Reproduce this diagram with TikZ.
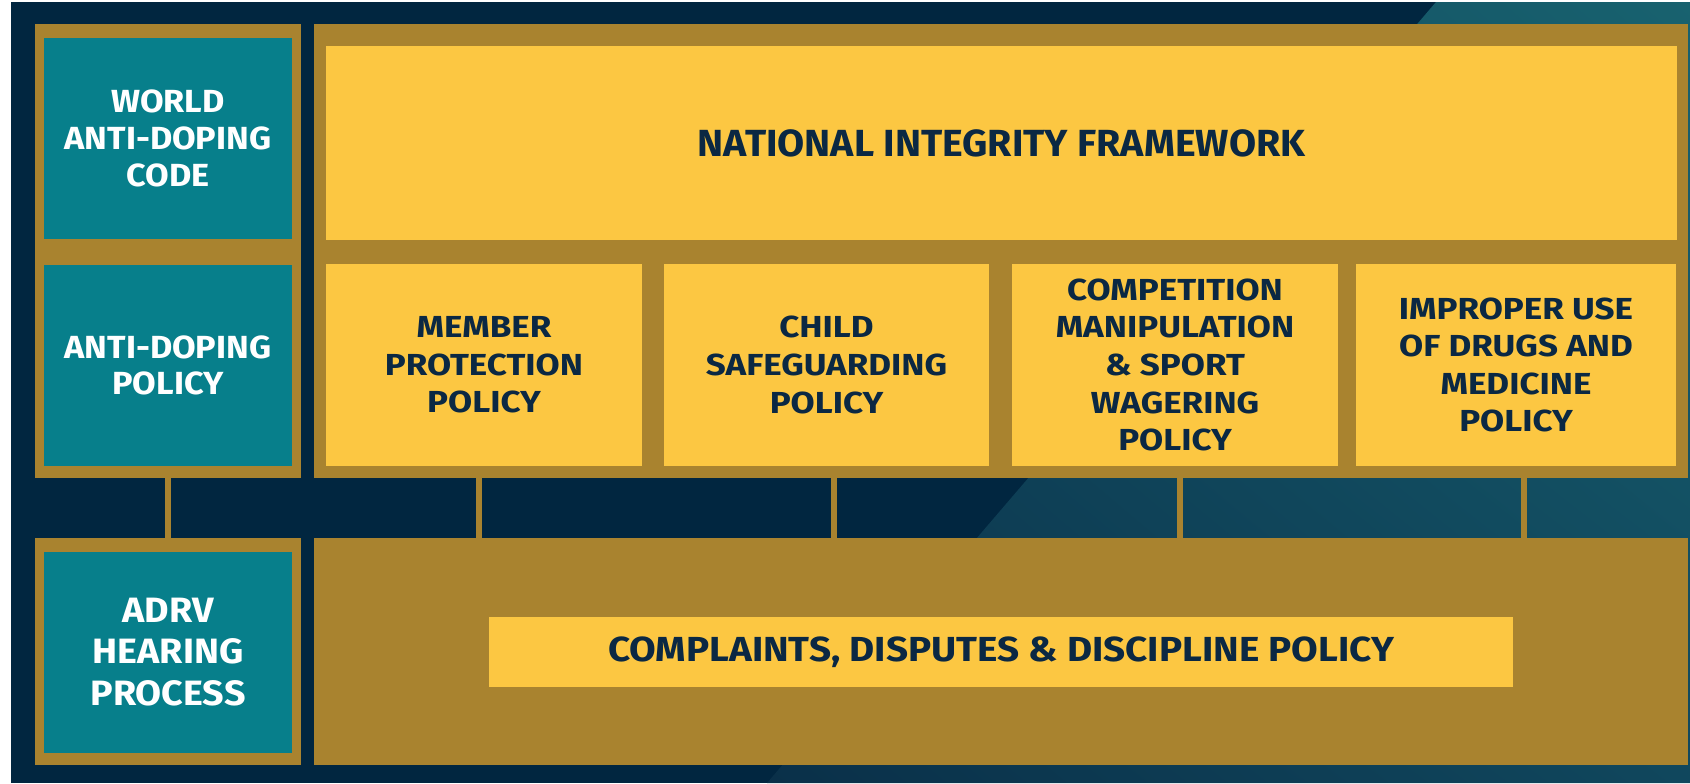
\documentclass[tikz,border=0pt]{standalone}
\usepackage{fontspec}
\setmainfont{Fira Sans}
\newfontfamily\colfont{Fira Sans}[FakeStretch=1.07]
\newfontfamily\nifont{Fira Sans}[FakeStretch=1.04]
\newfontfamily\polfont{Fira Sans}[FakeStretch=1.15]
\newfontfamily\cddfont{Fira Sans}[FakeStretch=1.11]
\usepackage{tikz}
\usetikzlibrary{shadings}
\definecolor{navy}{HTML}{012640}
\definecolor{seadark}{HTML}{0A3049}
\definecolor{sealight}{HTML}{18626F}
\definecolor{seamid}{HTML}{10475D}
\definecolor{gold}{HTML}{A9832F}
\definecolor{tealbox}{HTML}{077F8B}
\definecolor{sunny}{HTML}{FCC742}
\definecolor{ink}{HTML}{0B2843}

\begin{document}
\begin{tikzpicture}[x=0.5pt,y=-0.5pt]
	\useasboundingbox (0,0) rectangle (1690,783);
	\fill[white] (0,0) rectangle (1690,783);
	\fill[navy] (11,2) rectangle (1690,783);
	\shade[lower left=seadark, upper right=sealight, upper left=seamid, lower right=seamid]
		(1436,2) -- (1690,2) -- (1690,783) -- (767,783) -- cycle;

	% gold frames
	\begin{scope}[every node/.style={rectangle,fill=gold,inner sep=0pt}]
		\node[minimum width=133pt,minimum height=227pt] (codeframe) at (168,251) {};
		\node[minimum width=687pt,minimum height=227pt] (nifframe) at (1001,251) {};
		\node[minimum width=133pt,minimum height=113.5pt] (hearframe) at (168,651.5) {};
		\node[minimum width=687pt,minimum height=113.5pt] (cddframe) at (1001,651.5) {};
	\end{scope}

	\path[draw=gold,line width=3pt] (codeframe) -- (hearframe);

	\begin{scope}[every node/.style={rectangle,fill=tealbox,text=white,align=center,inner sep=0pt,
	              minimum width=124pt,minimum height=100.5pt,
	              font={\colfont\bfseries\fontsize{16}{18.35}\selectfont}}]
		\node (wadc) at (168,138.5) {WORLD\\ANTI-DOPING\\CODE};
		\node (adp) at (168,365.5) {ANTI-DOPING\\POLICY};
		\node[font={\colfont\bfseries\fontsize{17.6}{20.75}\selectfont}] (adrv) at (168,652) {ADRV\\HEARING\\PROCESS};
	\end{scope}

	\begin{scope}[every node/.style={rectangle,fill=sunny,text=ink,align=center,inner sep=0pt,
	              minimum height=101pt,
	              font={\polfont\bfseries\fontsize{15.2}{18.8}\selectfont}}]
		\node[minimum width=675.5pt,minimum height=97pt,font={\nifont\bfseries\fontsize{18.9}{22}\selectfont}] (nif) at (1001.5,143) {NATIONAL INTEGRITY FRAMEWORK};
		\node[minimum width=158pt] (member) at (484,365) {MEMBER\\PROTECTION\\POLICY};
		\node[minimum width=162.5pt] (child) at (826.5,365) {CHILD\\SAFEGUARDING\\POLICY};
		\node[minimum width=163pt] (comp) at (1175,365) {COMPETITION\\MANIPULATION\\\& SPORT\\WAGERING\\POLICY};
		\node[minimum width=160pt] (drugs) at (1516,365) {IMPROPER USE\\OF DRUGS AND\\MEDICINE\\POLICY};
		\node[minimum width=512pt,minimum height=35pt,font={\cddfont\bfseries\fontsize{17.4}{20}\selectfont}] (cdd) at (1001,652) {COMPLAINTS, DISPUTES \& DISCIPLINE POLICY};
	\end{scope}

	% links down to the complaints frame
	\begin{scope}[every path/.style={draw=gold,line width=3pt}]
		\path ([xshift=-2.5pt]member.south) -- ([xshift=-2.5pt]member.south |- cddframe.north);
		\path ([xshift=3.75pt]child.south) -- ([xshift=3.75pt]child.south |- cddframe.north);
		\path ([xshift=2.25pt]comp.south) -- ([xshift=2.25pt]comp.south |- cddframe.north);
		\path ([xshift=4pt]drugs.south) -- ([xshift=4pt]drugs.south |- cddframe.north);
	\end{scope}
\end{tikzpicture}
\end{document}
